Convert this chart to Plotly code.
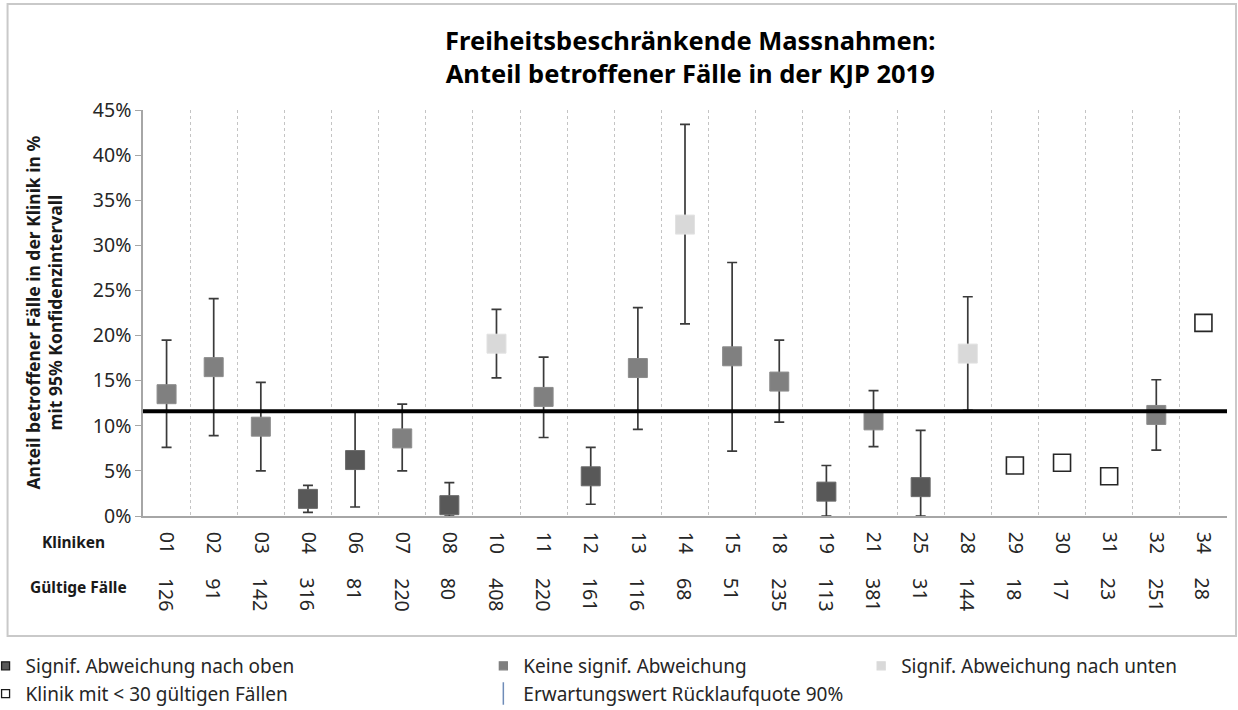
import plotly.graph_objects as go

# ---------------- data ----------------
kliniken = ["01", "02", "03", "04", "06", "07", "08", "10", "11", "12", "13", "14",
            "15", "18", "19", "21", "25", "28", "29", "30", "31", "32", "34"]
faelle = [126, 91, 142, 316, 81, 220, 80, 408, 220, 161, 116, 68,
          51, 235, 113, 381, 31, 144, 18, 17, 23, 251, 28]
anteil = [13.5, 16.5, 9.9, 1.9, 6.2, 8.6, 1.2, 19.1, 13.2, 4.4, 16.4, 32.3,
          17.7, 14.9, 2.7, 10.6, 3.2, 18.0, 5.6, 5.9, 4.4, 11.2, 21.4]
ki_oben = [19.5, 24.1, 14.8, 3.4, 11.6, 12.4, 3.7, 22.9, 17.6, 7.6, 23.1, 43.4,
           28.1, 19.5, 5.6, 13.9, 9.5, 24.3, None, None, None, 15.1, None]
ki_unten = [7.6, 8.9, 5.0, 0.4, 1.0, 5.0, 0.0, 15.3, 8.7, 1.3, 9.6, 21.3,
            7.2, 10.4, 0.0, 7.7, 0.0, 11.7, None, None, None, 7.3, None]
# gruppe: "oben" = dunkel, "keine" = mittel, "unten" = hell, "klein" = < 30 Faelle
gruppe = ["keine", "keine", "keine", "oben", "oben", "keine", "oben", "unten", "keine", "oben",
          "keine", "unten", "keine", "keine", "oben", "keine", "oben", "unten",
          "klein", "klein", "klein", "keine", "klein"]
erwartungswert = 11.6

legend_labels = {
    "oben": "Signif. Abweichung nach oben",
    "keine": "Keine signif. Abweichung",
    "unten": "Signif. Abweichung nach unten",
    "klein": "Klinik mit < 30 gültigen Fällen",
}
erwartung_label = "Erwartungswert Rücklaufquote 90%"

# ---------------- styles ----------------
FONT = "Noto Sans"
fill = {"oben": "#585858", "keine": "#808080", "unten": "#d9d9d9", "klein": "#ffffff"}
edge = {"oben": "#6a6a6a", "keine": "#8c8c8c", "unten": "#e2e2e2", "klein": "#262626"}
edge_w = {"oben": 1, "keine": 1, "unten": 1, "klein": 1.6}
legend_of = {"oben": "legend", "klein": "legend", "keine": "legend2", "unten": "legend3"}

fig = go.Figure()

# error bars (drawn first so markers sit on top)
for g in ["oben", "keine", "unten"]:
    idx = [i for i, gg in enumerate(gruppe) if gg == g]
    fig.add_trace(go.Scatter(
        x=[kliniken[i] for i in idx],
        y=[anteil[i] for i in idx],
        mode="markers",
        marker=dict(size=1, color="rgba(0,0,0,0)"),
        error_y=dict(type="data", symmetric=False,
                     array=[ki_oben[i] - anteil[i] for i in idx],
                     arrayminus=[anteil[i] - ki_unten[i] for i in idx],
                     color="#3a3a3a", thickness=1.7, width=5),
        showlegend=False, hoverinfo="skip",
    ))

# markers
for g in ["oben", "keine", "unten", "klein"]:
    idx = [i for i, gg in enumerate(gruppe) if gg == g]
    fig.add_trace(go.Scatter(
        x=[kliniken[i] for i in idx],
        y=[anteil[i] for i in idx],
        mode="markers",
        marker=dict(symbol="square", size=19 if g != "klein" else 17,
                    color=fill[g], line=dict(color=edge[g], width=edge_w[g])),
        showlegend=False,
        name=legend_labels[g],
    ))

# legend-only entries
for g in ["oben", "klein", "keine", "unten"]:
    fig.add_trace(go.Scatter(
        x=[None], y=[None], mode="markers",
        marker=dict(symbol="square", size=8, color=fill[g],
                    line=dict(color="#1a1a1a" if g in ("oben", "klein") else fill[g], width=1.3)),
        name=legend_labels[g], legend=legend_of[g], showlegend=True,
    ))
fig.add_trace(go.Scatter(
    x=[None], y=[None], mode="markers",
    marker=dict(symbol="line-ns-open", size=18, color="#6f8cb8", line=dict(color="#6f8cb8", width=1.5)),
    name=erwartung_label, legend="legend2", showlegend=True,
))

# expected value line
fig.add_hline(y=erwartungswert, line=dict(color="black", width=4), layer="above")

# ---------------- layout geometry ----------------
W, H = 1238, 710
L, R, T, B = 142.5, 11, 110, 194
pw, ph = W - L - R, H - T - B


def px_x(x):
    return (x - L) / pw


def px_y(y):
    return (H - B - y) / ph


# frame
fig.add_shape(type="rect", xref="paper", yref="paper",
              x0=px_x(7), x1=px_x(1236), y0=px_y(636), y1=px_y(4),
              line=dict(color="#c9c9c9", width=2), layer="below")

# counts row
for i, n in enumerate(faelle):
    fig.add_annotation(x=i, xref="x", y=px_y(576), yref="paper", text=str(n),
                       textangle=90, showarrow=False, xanchor="center", yanchor="top",
                       font=dict(family=FONT, size=19.5, color="#262626"))

fig.add_annotation(x=px_x(73), y=px_y(542), xref="paper", yref="paper", text="<b>Kliniken</b>",
                   showarrow=False, xanchor="center", yanchor="middle",
                   font=dict(family=FONT, size=15.5, color="#1a1a1a"))
fig.add_annotation(x=px_x(78), y=px_y(587), xref="paper", yref="paper", text="<b>Gültige Fälle</b>",
                   showarrow=False, xanchor="center", yanchor="middle",
                   font=dict(family=FONT, size=15.5, color="#1a1a1a"))

# y-axis title
fig.add_annotation(x=px_x(43), y=px_y(313), xref="paper", yref="paper",
                   text="<b>Anteil betroffener Fälle in der Klinik in %<br>mit 95% Konfidenzintervall</b>",
                   textangle=-90, showarrow=False, xanchor="center", yanchor="middle",
                   font=dict(family=FONT, size=17.5, color="#1a1a1a"))

legend_common = dict(orientation="v", xanchor="left", yanchor="top", bgcolor="rgba(0,0,0,0)",
                     font=dict(family=FONT, size=19, color="#262626"), tracegroupgap=0,
                     itemwidth=30)

fig.update_layout(
    width=W, height=H,
    margin=dict(l=L, r=R, t=T, b=B, autoexpand=False),
    paper_bgcolor="white", plot_bgcolor="white",
    title=dict(text="<b>Freiheitsbeschränkende Massnahmen:<br>Anteil betroffener Fälle in der KJP 2019</b>",
               x=px_x(690), xanchor="center", xref="paper",
               y=1 - 50 / H, yanchor="middle",
               font=dict(family=FONT, size=25.5, color="#000000")),
    xaxis=dict(type="category", categoryorder="array", categoryarray=kliniken,
               range=[-0.5, len(kliniken) - 0.5],
               tickson="boundaries", showgrid=True, gridcolor="#c4c4c4", griddash="dot", gridwidth=1,
               showline=True, linecolor="#a6a6a6", linewidth=1.5, ticks="",
               tickangle=90, ticklabelstandoff=10,
               tickfont=dict(family=FONT, size=19.5, color="#262626"), zeroline=False),
    yaxis=dict(range=[0, 45], dtick=5, ticksuffix="%", showgrid=False, zeroline=False,
               showline=True, linecolor="#a6a6a6", linewidth=1.5, ticks="outside", ticklen=6,
               tickcolor="#a6a6a6", tickfont=dict(family=FONT, size=19.5, color="#262626")),
    legend=dict(x=px_x(-15), y=px_y(647), **legend_common),
    legend2=dict(x=px_x(483), y=px_y(647), **legend_common),
    legend3=dict(x=px_x(861), y=px_y(647), **legend_common),
    showlegend=True,
)

fig.write_html("out.html", config={"displayModeBar": False},
               post_script="document.body.style.margin='0';document.body.style.overflow='hidden';")
